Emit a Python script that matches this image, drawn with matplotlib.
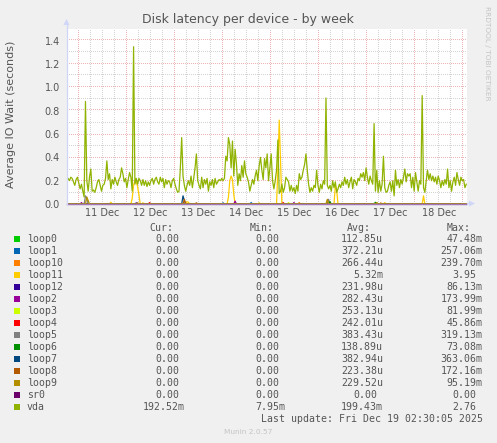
import numpy as np
import matplotlib
matplotlib.use("Agg")
import matplotlib.pyplot as plt
from matplotlib.patches import Rectangle, Polygon
from matplotlib.lines import Line2D

W, H = 497, 443

# vda samples, 40 min apart, first one at Dec 10 18:24 (hours relative to Dec 11 00:00)
vda_start_h = -5.6
vda_step_h = 2.0 / 3.0
vda = [
    0.19, 0.22, 0.20, 0.23, 0.22, 0.19, 0.16, 0.21, 0.23, 0.18,
    0.13, 0.17, 0.11, 0.06, 0.88, 0.20, 0.11, 0.23, 0.30, 0.11,
    0.12, 0.10, 0.14, 0.19, 0.21, 0.16, 0.11, 0.16, 0.17, 0.22,
    0.37, 0.21, 0.26, 0.13, 0.21, 0.17, 0.23, 0.19, 0.16, 0.21,
    0.23, 0.31, 0.26, 0.19, 0.22, 0.14, 0.21, 0.27, 0.23, 0.11,
    1.35, 0.17, 0.22, 0.17, 0.22, 0.20, 0.16, 0.21, 0.16, 0.20,
    0.15, 0.19, 0.16, 0.20, 0.22, 0.17, 0.21, 0.23, 0.19, 0.17,
    0.23, 0.19, 0.22, 0.14, 0.21, 0.17, 0.20, 0.19,
    0.14, 0.20, 0.22, 0.17, 0.13, 0.10, 0.11, 0.31, 0.57, 0.24,
    0.16, 0.11, 0.16, 0.20, 0.16, 0.24, 0.14, 0.22, 0.31, 0.43,
    0.20, 0.16, 0.13, 0.23, 0.14, 0.21, 0.17, 0.22, 0.11, 0.19,
    0.16, 0.21, 0.14, 0.22, 0.17, 0.19, 0.21, 0.20, 0.22, 0.20,
    0.22, 0.41, 0.37, 0.57, 0.51, 0.31, 0.54, 0.24, 0.47, 0.34,
    0.16, 0.26, 0.20, 0.33, 0.23, 0.37, 0.26, 0.23, 0.19, 0.11,
    0.16, 0.21, 0.17, 0.24, 0.29, 0.20, 0.33, 0.40, 0.29, 0.21,
    0.39, 0.31, 0.43, 0.20, 0.31, 0.43, 0.20, 0.13,
    0.20, 0.29, 0.55, 0.09, 0.11, 0.17, 0.10, 0.14, 0.23, 0.21,
    0.19, 0.11, 0.16, 0.11, 0.14, 0.09, 0.16, 0.11, 0.26, 0.21,
    0.23, 0.29, 0.34, 0.43, 0.29, 0.17, 0.10, 0.14, 0.11, 0.16,
    0.14, 0.29, 0.16, 0.10, 0.17, 0.13, 0.20, 0.17, 0.91, 0.16,
    0.13, 0.16, 0.11, 0.20, 0.14, 0.19, 0.10, 0.13, 0.17, 0.14,
    0.19, 0.16, 0.23, 0.17, 0.21, 0.14, 0.19, 0.23, 0.13, 0.21,
    0.19, 0.16, 0.22, 0.20, 0.26, 0.23, 0.27, 0.20, 0.31, 0.23,
    0.17, 0.24, 0.20,
    0.17, 0.69, 0.11, 0.29, 0.10, 0.20, 0.11, 0.17, 0.41, 0.14,
    0.10, 0.11, 0.16, 0.19, 0.11, 0.20, 0.07, 0.29, 0.16, 0.21,
    0.14, 0.21, 0.17, 0.23, 0.30, 0.19, 0.26, 0.24, 0.26, 0.14,
    0.23, 0.11, 0.27, 0.19, 0.11, 0.20, 0.17, 0.93, 0.14, 0.10,
    0.20, 0.29, 0.21, 0.26, 0.20, 0.24, 0.19, 0.23, 0.17, 0.24,
    0.20, 0.14, 0.20, 0.16, 0.21, 0.17, 0.30, 0.14, 0.20, 0.11,
    0.19, 0.23, 0.16, 0.27, 0.21, 0.16, 0.23, 0.20, 0.21, 0.14,
    0.17,
]

# loop devices are zero except for a few short blips (sample index, value)
loop0_idx, loop0_val = [232], [0.010]
loop1_idx, loop1_val = [117, 138], [0.010, 0.012]
loop10_idx, loop10_val = [174, 235], [0.012, 0.010]
loop11_idx = [33, 49, 50, 51, 52, 53, 54, 57, 90, 91, 121, 122, 123, 124, 125,
              144, 158, 159, 160, 195, 201, 202, 238, 267]
loop11_val = [0.015, 0.05, 0.16, 0.20, 0.19, 0.15, 0.08, 0.01, 0.02, 0.015, 0.06, 0.20, 0.24, 0.21, 0.08,
              0.01, 0.30, 0.72, 0.35, 0.03, 0.16, 0.12, 0.012, 0.07]
loop12_idx, loop12_val = [52], [0.010]
loop2_idx, loop2_val = [11, 126, 170], [0.012, 0.025, 0.012]
loop3_idx, loop3_val = [166], [0.012]
loop4_idx, loop4_val = [62, 162], [0.012, 0.012]
loop5_idx, loop5_val = [14, 15, 196], [0.07, 0.05, 0.04]
loop6_idx, loop6_val = [197, 231], [0.02, 0.015]
loop7_idx, loop7_val = [87, 88], [0.07, 0.03]
loop8_idx, loop8_val = [53, 88, 97], [0.01, 0.04, 0.01]
loop9_idx, loop9_val = [15, 16, 195, 232], [0.06, 0.03, 0.04, 0.012]
sr0_idx, sr0_val = [], []

names = ["loop0", "loop1", "loop10", "loop11", "loop12", "loop2", "loop3", "loop4",
         "loop5", "loop6", "loop7", "loop8", "loop9", "sr0", "vda"]
colors = ["#00CC00", "#0066B3", "#FF8000", "#FFCC00", "#330099", "#990099", "#CCFF00",
          "#FF0000", "#808080", "#008F00", "#00487D", "#B35A00", "#B38F00", "#6B006B", "#8FB300"]
cur = ["0.00"] * 14 + ["192.52m"]
mins = ["0.00"] * 14 + ["7.95m"]
avgs = ["112.85u", "372.21u", "266.44u", "5.32m", "231.98u", "282.43u", "253.13u", "242.01u",
        "383.43u", "138.89u", "382.94u", "223.38u", "229.52u", "0.00", "199.43m"]
maxs = ["47.48m", "257.06m", "239.70m", "3.95", "86.13m", "173.99m", "81.99m", "45.86m",
        "319.13m", "73.08m", "363.06m", "172.16m", "95.19m", "0.00", "2.76"]

day_labels = ["11 Dec", "12 Dec", "13 Dec", "14 Dec", "15 Dec", "16 Dec", "17 Dec", "18 Dec"]
y_ticks = [0.0, 0.2, 0.4, 0.6, 0.8, 1.0, 1.2, 1.4]

loops = [
    (loop0_idx, loop0_val), (loop1_idx, loop1_val), (loop10_idx, loop10_val),
    (loop11_idx, loop11_val), (loop12_idx, loop12_val), (loop2_idx, loop2_val),
    (loop3_idx, loop3_val), (loop4_idx, loop4_val), (loop5_idx, loop5_val),
    (loop6_idx, loop6_val), (loop7_idx, loop7_val), (loop8_idx, loop8_val),
    (loop9_idx, loop9_val),
]

TXT = "#555555"
plt.rcParams["font.family"] = ["DejaVu Sans"]


def fx(x):
    return x / W


def fy(y):
    return 1 - y / H


fig = plt.figure(figsize=(W / 100, H / 100), dpi=100, facecolor="#F0F0F0")

x0, x1 = 67, 467
y_bot, y_top = 204, 29
pw, ph = x1 - x0, y_bot - y_top
ax = fig.add_axes([fx(x0), fy(y_bot), pw / W, ph / H])
ax.set_facecolor("white")
for s in ax.spines.values():
    s.set_visible(False)

px_per_day = 48.1
xmin = (x0 - 78) / px_per_day
xmax = (x1 - 78) / px_per_day
ymax = 1.502
ax.set_xlim(xmin, xmax)
ax.set_ylim(0, ymax)

# dotted grid, painted pixel by pixel so the dots stay crisp
red = np.array([0.93, 0.71, 0.71, 1.0])
grey = np.array([0.83, 0.83, 0.83, 1.0])
grid = np.zeros((ph, pw, 4))
for q in np.arange(0.0, 8.01, 0.25):
    col = int(round((q - xmin) / (xmax - xmin) * pw - 0.5))
    if 0 <= col < pw:
        major = abs(q - round(q)) < 1e-6
        grid[::2, col] = red if major else grey
for v in np.arange(0.1, 1.51, 0.1):
    row = int(round((ymax - v) / ymax * ph - 0.5))
    row = min(max(row, 0), ph - 1)
    major = abs(v / 0.2 - round(v / 0.2)) < 1e-6
    grid[row, ::2] = red if major else grey
ax.imshow(grid, extent=(xmin, xmax, 0, ymax), aspect="auto", interpolation="nearest",
          zorder=0)

t = (vda_start_h + vda_step_h * np.arange(len(vda))) / 24.0

for (idx, val), c in zip(loops, colors[:13]):
    series = np.zeros(len(vda))
    series[idx] = val
    ax.plot(t, series, color=c, lw=0.9, zorder=2)

# axis line under the zero-valued sr0 line
ax.plot([xmin, xmax], [0, 0], color="#CFD6F8", lw=1.0, clip_on=False, zorder=4)
sr0 = np.zeros(len(vda))
sr0[sr0_idx] = sr0_val
ax.plot(t, sr0, color=colors[13], lw=1.0, alpha=0.45, clip_on=False, zorder=5)

ax.plot(t, vda, color=colors[-1], lw=0.9, zorder=3)

ax.set_yticks(y_ticks)
ax.set_yticklabels(["%.1f" % v for v in y_ticks], fontsize=7, color=TXT)
ax.set_xticks([d + 0.5 for d in range(len(day_labels))])
ax.set_xticklabels(day_labels, fontsize=7, color=TXT)
ax.tick_params(axis="both", length=0)
ax.tick_params(axis="y", pad=5)
ax.tick_params(axis="x", pad=3)

# axis lines and arrows
axis_col = "#CFD6F8"
fig.add_artist(Line2D([fx(x0 - 0.5), fx(x0 - 0.5)], [fy(y_bot), fy(25)], color=axis_col, lw=0.9))
fig.add_artist(Line2D([fx(x1), fx(470)], [fy(203.5), fy(203.5)], color=axis_col, lw=0.9))
fig.add_artist(Polygon([[fx(63.5), fy(25)], [fx(69.5), fy(25)], [fx(66.5), fy(19)]],
                       closed=True, color=axis_col, lw=0))
fig.add_artist(Polygon([[fx(469), fy(200.5)], [fx(469), fy(206.5)], [fx(475), fy(203.5)]],
                       closed=True, color=axis_col, lw=0))

fig.text(fx(248), fy(19.3), "Disk latency per device - by week", ha="center", va="center",
         fontsize=9, color=TXT)
fig.text(fx(11), fy(114), "Average IO Wait (seconds)", ha="center", va="center",
         rotation=90, fontsize=8, color=TXT)
fig.text(fx(487), fy(53), "RRDTOOL / TOBI OETIKER", ha="center", va="center",
         rotation=270, fontsize=5.3, color="#C4C4C4")

# legend table
mono = "DejaVu Sans Mono"
fs = 7.1
cw = fs * 100 / 72 * 0.602
col_right = [185, 285, 383, 482.7]
head_y = 228.3
for h, r in zip(["Cur:", "Min:", "Avg:", "Max:"], col_right):
    fig.text(fx(r - 2 * cw), fy(head_y), h, ha="right", va="center", family=mono,
             fontsize=fs, color=TXT)


def put(s, r, y):
    shift = cw if s[-1].isdigit() else 0
    fig.text(fx(r - shift), fy(y), s, ha="right", va="center", family=mono,
             fontsize=fs, color=TXT)


for i, name in enumerate(names):
    y = 239.3 + 12.0 * i
    fig.add_artist(Rectangle((fx(14), fy(y + 3)), 6 / W, 6 / H, color=colors[i], lw=0))
    fig.text(fx(26.7), fy(y), name, ha="left", va="center", family=mono,
             fontsize=fs, color=TXT)
    for s, r in zip([cur[i], mins[i], avgs[i], maxs[i]], col_right):
        put(s, r, y)

fig.text(fx(482.7), fy(419), "Last update: Fri Dec 19 02:30:05 2025", ha="right",
         va="center", family=mono, fontsize=fs, color=TXT)
fig.text(fx(248), fy(432.5), "Munin 2.0.57", ha="center", va="center",
         fontsize=5.3, color="#C4C4C4")

fig.savefig("out.png", dpi=100, facecolor=fig.get_facecolor())
